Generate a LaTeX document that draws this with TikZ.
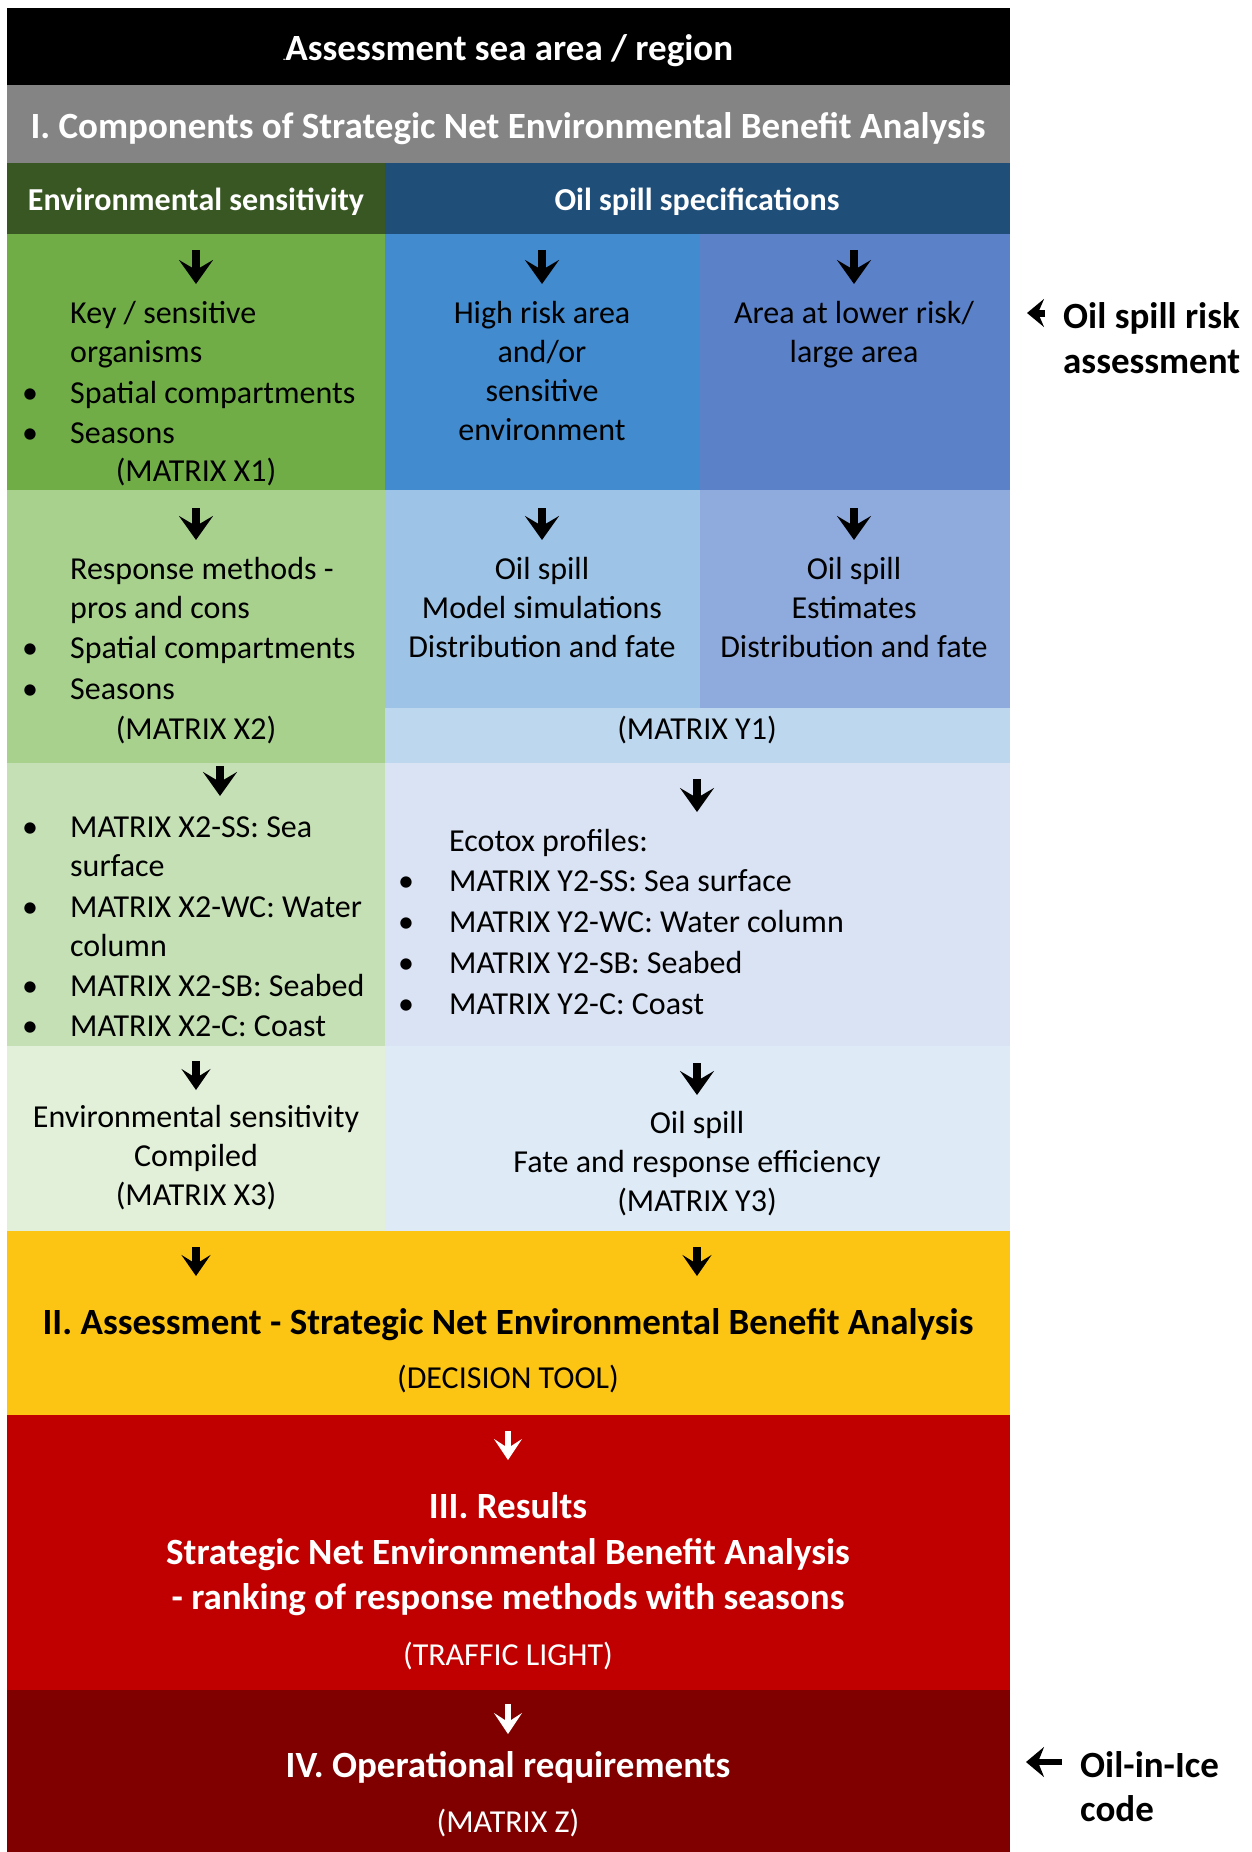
\documentclass[tikz,border=0pt]{standalone}
\usepackage{fontspec}
\setmainfont{Carlito}
\usetikzlibrary{arrows.meta}
\definecolor{cBlack}{HTML}{000000}
\definecolor{cGray}{HTML}{848484}
\definecolor{cDkGreen}{HTML}{395723}
\definecolor{cDkBlue}{HTML}{1F4E79}
\definecolor{cGreenA}{HTML}{70AD47}
\definecolor{cBlueA}{HTML}{428BCE}
\definecolor{cPurpA}{HTML}{5B81C8}
\definecolor{cGreenB}{HTML}{A9D18E}
\definecolor{cBlueB}{HTML}{9DC3E6}
\definecolor{cPurpB}{HTML}{8FAADC}
\definecolor{cYone}{HTML}{BDD7EE}
\definecolor{cGreenC}{HTML}{C5E0B4}
\definecolor{cBlueC}{HTML}{DAE3F3}
\definecolor{cGreenD}{HTML}{E2F0D9}
\definecolor{cBlueD}{HTML}{DEEBF7}
\definecolor{cYellow}{HTML}{FDC513}
\definecolor{cRed}{HTML}{C00000}
\definecolor{cDkRed}{HTML}{800000}
\tikzset{
  tx/.style={inner sep=0pt, anchor=base, font=\fontsize{32}{40}\selectfont},
  txl/.style={tx, anchor=base west},
  bul/.style={tx},
  hd/.style={inner sep=0pt, anchor=base, font=\fontsize{37}{45}\selectfont\bfseries},
  hdl/.style={hd, anchor=base west},
  colhd/.style={inner sep=0pt, anchor=base, text=white, font=\fontsize{32}{40}\selectfont\bfseries},
  bigarr/.style={line width=8pt, -{Stealth[length=24pt, width=34pt, inset=10pt]}},
  midarr/.style={line width=7.5pt, -{Stealth[length=21pt, width=29pt, inset=9pt]}},
  whitearr/.style={white, line width=6.5pt, -{Stealth[length=21pt, width=28pt, inset=9pt]}},
  sidearr/.style={line width=6.5pt, -{Stealth[length=18pt, width=30pt, inset=6pt]}},
  chevarr/.style={line width=7pt, -{Stealth[length=17pt, width=28pt, inset=6pt]}}
}
\begin{document}
\begin{tikzpicture}[x=1pt, y=-1pt]
\useasboundingbox (0,0) rectangle (1252,1852);
% panels
\fill[cBlack]   (7,8) rectangle (1010,85);
\fill[cGray]    (7,85) rectangle (1010,163);
\fill[cDkGreen] (7,163) rectangle (385,234);
\fill[cDkBlue]  (385,163) rectangle (1010,234);
\fill[cGreenA]  (7,234) rectangle (385,490);
\fill[cBlueA]   (385,234) rectangle (700,490);
\fill[cPurpA]   (700,234) rectangle (1010,490);
\fill[cGreenB]  (7,490) rectangle (385,763);
\fill[cBlueB]   (385,490) rectangle (700,708);
\fill[cPurpB]   (700,490) rectangle (1010,708);
\fill[cYone]    (385,708) rectangle (1010,763);
\fill[cGreenC]  (7,763) rectangle (385,1046);
\fill[cBlueC]   (385,763) rectangle (1010,1046);
\fill[cGreenD]  (7,1046) rectangle (385,1231);
\fill[cBlueD]   (385,1046) rectangle (1010,1231);
\fill[cYellow]  (7,1231) rectangle (1010,1415);
\fill[cRed]     (7,1415) rectangle (1010,1690);
\fill[cDkRed]   (7,1690) rectangle (1010,1852);

% headers
\node[hd, text=white] (h0) at (508,60) {{\fontsize{10}{12}\selectfont .}Assessment sea area / region};
\node[hd, text=white] (h1) at (508,138) {I. Components of Strategic Net Environmental Benefit Analysis};
\node[colhd] (hEnv) at (196,210) {Environmental sensitivity};
\node[colhd] (hOil) at (697,210) {Oil spill specifications};

% row 1
\node[txl] (k1) at (70,323) {Key / sensitive};
\node[txl] (k2) at (70,362) {organisms};
\node[bul] (kb1) at (30,403) {•};
\node[txl] (k3) at (70,403) {Spatial compartments};
\node[bul] (kb2) at (30,443) {•};
\node[txl] (k4) at (70,443) {Seasons};
\node[tx]  (k5) at (196,481) {(MATRIX X1)};
\node[tx] (hr1) at (542,323) {High risk area};
\node[tx] (hr2) at (542,362) {and/or};
\node[tx] (hr3) at (542,401) {sensitive};
\node[tx] (hr4) at (542,440) {environment};
\node[tx] (lr1) at (854,323) {Area at lower risk/};
\node[tx] (lr2) at (854,362) {large area};

% row 2
\node[txl] (r1) at (70,579) {Response methods -};
\node[txl] (r2) at (70,618) {pros and cons};
\node[bul] (rb1) at (30,658) {•};
\node[txl] (r3) at (70,658) {Spatial compartments};
\node[bul] (rb2) at (30,699) {•};
\node[txl] (r4) at (70,699) {Seasons};
\node[tx]  (r5) at (196,739) {(MATRIX X2)};
\node[tx] (m1) at (542,579) {Oil spill};
\node[tx] (m2) at (542,618) {Model simulations};
\node[tx] (m3) at (542,657) {Distribution and fate};
\node[tx] (e1) at (854,579) {Oil spill};
\node[tx] (e2) at (854,618) {Estimates};
\node[tx] (e3) at (854,657) {Distribution and fate};
\node[tx] (y1) at (697,739) {(MATRIX Y1)};

% row 3
\node[bul] (sb1) at (30,837) {•};
\node[txl] (s1) at (70,837) {MATRIX X2-SS: Sea};
\node[txl] (s2) at (70,876) {surface};
\node[bul] (sb2) at (30,917) {•};
\node[txl] (s3) at (70,917) {MATRIX X2-WC: Water};
\node[txl] (s4) at (70,956) {column};
\node[bul] (sb3) at (30,996) {•};
\node[txl] (s5) at (70,996) {MATRIX X2-SB: Seabed};
\node[bul] (sb4) at (30,1036) {•};
\node[txl] (s6) at (70,1036) {MATRIX X2-C: Coast};
\node[txl] (ec0) at (449,851) {Ecotox profiles:};
\node[bul] (eb1) at (406,891) {•};
\node[txl] (ec1) at (449,891) {MATRIX Y2-SS: Sea surface};
\node[bul] (eb2) at (406,932) {•};
\node[txl] (ec2) at (449,932) {MATRIX Y2-WC: Water column};
\node[bul] (eb3) at (406,973) {•};
\node[txl] (ec3) at (449,973) {MATRIX Y2-SB: Seabed};
\node[bul] (eb4) at (406,1014) {•};
\node[txl] (ec4) at (449,1014) {MATRIX Y2-C: Coast};

% row 4
\node[tx] (c1) at (196,1127) {Environmental sensitivity};
\node[tx] (c2) at (196,1166) {Compiled};
\node[tx] (c3) at (196,1205) {(MATRIX X3)};
\node[tx] (f1) at (697,1133) {Oil spill};
\node[tx] (f2) at (697,1172) {Fate and response efficiency};
\node[tx] (f3) at (697,1211) {(MATRIX Y3)};

% II
\node[hd] (a1) at (508,1334) {II. Assessment - Strategic Net Environmental Benefit Analysis};
\node[tx] (a2) at (508,1388) {(DECISION TOOL)};
% III
\node[hd, text=white] (res1) at (508,1518) {III. Results};
\node[hd, text=white] (res2) at (508,1564) {Strategic Net Environmental Benefit Analysis};
\node[hd, text=white] (res3) at (508,1609) {- ranking of response methods with seasons};
\node[tx, text=white] (res4) at (508,1665) {(TRAFFIC LIGHT)};
% IV
\node[hd, text=white] (op1) at (508,1777) {IV. Operational requirements};
\node[tx, text=white] (op2) at (508,1832) {(MATRIX Z)};

% side notes
\node[hdl] (sn1) at (1063,328) {Oil spill risk};
\node[hdl] (sn2) at (1063,373) {assessment};
\node[hdl] (oi1) at (1080,1777) {Oil-in-Ice};
\node[hdl] (oi2) at (1080,1821) {code};

% arrow coordinates
\coordinate (a1s) at (196,250);  \coordinate (a1e) at (196,284);
\coordinate (a2s) at (542,250);  \coordinate (a2e) at (542,284);
\coordinate (a3s) at (854,250);  \coordinate (a3e) at (854,284);
\coordinate (b1s) at (196,508);  \coordinate (b1e) at (196,540);
\coordinate (b2s) at (542,508);  \coordinate (b2e) at (542,540);
\coordinate (b3s) at (854,508);  \coordinate (b3e) at (854,540);
\coordinate (c1s) at (220,766);  \coordinate (c1e) at (220,796);
\coordinate (c2s) at (697,779);  \coordinate (c2e) at (697,812);
\coordinate (d1s) at (196,1061); \coordinate (d1e) at (196,1090);
\coordinate (d2s) at (697,1063); \coordinate (d2e) at (697,1095);
\coordinate (g1s) at (196,1247); \coordinate (g1e) at (196,1276);
\coordinate (g2s) at (697,1247); \coordinate (g2e) at (697,1276);
\coordinate (w1s) at (508,1431); \coordinate (w1e) at (508,1460);
\coordinate (w2s) at (508,1704); \coordinate (w2e) at (508,1734);
\coordinate (o1s) at (1062,1762); \coordinate (o1e) at (1026,1762);
\coordinate (q1s) at (1045,313); \coordinate (q1e) at (1027,313);

\draw[bigarr] (a1s) -- (a1e);
\draw[bigarr] (a2s) -- (a2e);
\draw[bigarr] (a3s) -- (a3e);
\draw[bigarr] (b1s) -- (b1e);
\draw[bigarr] (b2s) -- (b2e);
\draw[bigarr] (b3s) -- (b3e);
\draw[bigarr] (c1s) -- (c1e);
\draw[bigarr] (c2s) -- (c2e);
\draw[midarr] (d1s) -- (d1e);
\draw[bigarr] (d2s) -- (d2e);
\draw[midarr] (g1s) -- (g1e);
\draw[midarr] (g2s) -- (g2e);
\draw[whitearr] (w1s) -- (w1e);
\draw[whitearr] (w2s) -- (w2e);
\draw[sidearr] (o1s) -- (o1e);
\draw[chevarr] (q1s) -- (q1e);
\end{tikzpicture}
\end{document}
